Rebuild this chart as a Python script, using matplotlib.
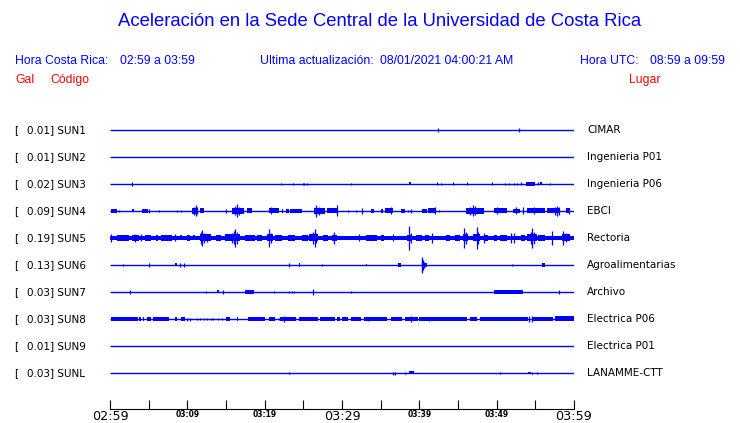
import matplotlib
matplotlib.use("Agg")
import matplotlib.pyplot as plt
from matplotlib.transforms import blended_transform_factory

# Stations
codes = ["SUN1", "SUN2", "SUN3", "SUN4", "SUN5", "SUN6", "SUN7", "SUN8", "SUN9", "SUNL"]
gal = [0.01, 0.01, 0.02, 0.09, 0.19, 0.13, 0.03, 0.03, 0.01, 0.03]
places = ["CIMAR", "Ingenieria P01", "Ingenieria P06", "EBCI", "Rectoria",
          "Agroalimentarias", "Archivo", "Electrica P06", "Electrica P01", "LANAMME-CTT"]

# time axis (minutes after 02:59)
tick_minutes = [0, 5, 10, 15, 20, 25, 30, 35, 40, 45, 50, 55, 60]
tick_labels = ["02:59", "", "03:09", "", "03:19", "", "03:29", "", "03:39", "", "03:49", "", "03:59"]
big_ticks = ["02:59", "03:29", "03:59"]

# bursts: (start min, end min, half amplitude) and (min, half amplitude)
# amplitude in trace units where 27 = distance between two traces
bands = {
    "SUN1": [],
    "SUN2": [],
    "SUN3": [(38.7, 38.9, 1.5), (53.8, 55.0, 1.7), (55.6, 55.8, 1.5)],
    "SUN4": [(0.1, 0.9, 2.0), (2.9, 3.1, 1.5), (4.2, 4.9, 2.0), (10.6, 11.4, 3.0), (11.6, 12.1, 2.5),
             (15.8, 17.3, 3.0), (17.7, 18.3, 2.5), (20.6, 21.8, 2.5), (22.2, 22.4, 2.0), (22.8, 23.1, 2.0),
             (23.3, 24.8, 2.0), (26.4, 27.8, 3.0), (28.1, 29.5, 2.5), (33.8, 34.2, 2.0), (35.0, 35.3, 2.0),
             (35.6, 36.6, 2.5), (37.6, 38.2, 2.0), (40.3, 41.0, 2.0), (41.1, 42.2, 2.5), (46.0, 48.3, 3.0),
             (49.6, 51.3, 2.5), (52.1, 53.0, 2.0), (53.9, 56.3, 2.5), (56.5, 58.2, 2.5), (59.0, 59.5, 2.5)],
    "SUN5": [(0.0, 60.0, 2.2), (0.9, 2.4, 2.7), (2.8, 3.7, 3.0), (4.5, 5.3, 2.7), (5.9, 6.2, 2.7),
             (6.6, 8.0, 2.7), (9.1, 9.3, 2.5), (9.9, 10.4, 2.7), (10.7, 11.0, 2.5), (11.6, 13.1, 3.5),
             (13.7, 14.4, 2.7), (14.9, 16.8, 3.5), (17.4, 18.8, 2.7), (19.0, 19.6, 2.7), (20.3, 21.1, 3.5),
             (21.4, 22.2, 3.0), (23.0, 23.9, 2.7), (24.8, 25.6, 3.0), (25.7, 26.9, 3.5), (27.6, 28.2, 2.7),
             (28.7, 29.3, 3.0), (33.1, 34.5, 2.7), (35.1, 35.4, 2.7), (38.4, 39.0, 3.0), (39.6, 40.3, 3.0),
             (40.7, 41.2, 3.0), (43.4, 44.0, 2.7), (44.6, 45.3, 2.7), (45.7, 46.3, 3.5), (47.0, 47.8, 3.5),
             (48.3, 48.9, 3.0), (49.6, 50.0, 3.0), (50.4, 51.3, 3.0), (53.2, 53.7, 3.0), (53.9, 55.2, 3.5),
             (55.4, 56.3, 3.0), (58.4, 59.5, 3.5)],
    "SUN6": [(8.4, 8.6, 1.5), (24.5, 24.6, 1.7), (33.1, 33.2, 1.3), (37.3, 37.6, 1.7), (40.3, 41.0, 2.0),
             (55.9, 56.2, 2.3)],
    "SUN7": [(13.9, 14.1, 1.5), (17.5, 18.6, 1.7), (49.6, 53.4, 1.7)],
    "SUN8": [(0.1, 3.6, 2.3), (3.7, 4.0, 2.3), (4.3, 4.4, 2.3), (4.8, 5.3, 2.3), (5.5, 7.6, 2.3),
             (8.4, 8.7, 2.3), (9.2, 9.7, 2.3), (15.0, 15.5, 2.3), (16.4, 16.6, 2.3), (17.9, 20.1, 2.3),
             (20.5, 21.4, 2.3), (22.0, 24.1, 2.3), (24.4, 26.9, 2.3), (27.2, 29.1, 2.3), (29.4, 29.7, 2.3),
             (30.0, 30.8, 2.3), (31.1, 32.4, 2.3), (32.8, 35.8, 2.3), (36.3, 37.8, 2.3), (38.1, 39.8, 2.3),
             (40.0, 46.2, 2.3), (46.5, 47.5, 2.3), (47.8, 54.1, 2.3), (54.7, 57.3, 2.3), (57.5, 60.0, 2.5)],
    "SUN9": [],
    "SUNL": [(38.6, 39.3, 1.5), (54.0, 54.4, 1.3)],
}

spikes = {
    "SUN1": [(42.4, 1.7), (52.9, 1.7)],
    "SUN2": [],
    "SUN3": [(2.9, 1.7), (22.1, 1.0), (23.6, 1.0), (24.9, 1.0), (25.1, 1.0), (25.5, 1.0), (31.2, 0.8),
             (42.3, 1.5), (42.8, 0.8), (44.4, 1.5), (46.1, 1.5), (49.4, 1.5), (51.1, 1.0), (51.6, 1.0),
             (52.2, 1.0), (52.6, 1.2), (53.1, 1.5), (55.3, 1.5), (56.9, 1.0)],
    "SUN4": [(1.2, 1.0), (5.1, 2.0), (6.4, 1.0), (8.6, 1.0), (9.2, 1.0), (10.9, 4.0), (11.1, 5.5),
             (11.3, 3.5), (15.0, 2.0), (16.1, 4.5), (16.4, 6.5), (16.7, 4.0), (20.8, 3.5), (26.6, 4.0),
             (26.7, 6.0), (27.0, 4.0), (29.3, 5.5), (30.8, 0.8), (31.8, 0.8), (32.6, 3.0), (36.3, 3.5),
             (38.5, 1.0), (38.9, 2.0), (42.0, 3.5), (42.5, 1.0), (46.5, 4.0), (46.9, 5.5), (47.2, 4.5),
             (50.0, 3.5), (52.5, 3.5), (53.4, 3.5), (54.8, 3.5), (57.6, 4.0), (57.8, 5.3), (58.0, 4.0),
             (59.3, 3.0)],
    "SUN5": [(0.1, 3.7), (3.2, 4.0), (4.0, 3.5), (8.4, 3.5), (11.8, 6.0), (11.9, 8.3), (12.2, 5.0),
             (12.6, 4.0), (15.8, 5.0), (16.0, 6.5), (16.2, 8.8), (16.4, 6.0), (20.6, 8.8), (20.8, 5.0),
             (26.3, 6.0), (26.5, 9.0), (26.7, 5.0), (29.0, 6.0), (32.2, 3.5), (36.6, 3.5), (38.7, 12.0),
             (38.9, 5.0), (41.6, 5.3), (45.8, 10.3), (46.0, 6.0), (47.4, 11.0), (47.6, 6.0), (48.4, 5.0),
             (51.9, 5.0), (52.3, 5.0), (54.4, 6.0), (54.6, 10.3), (54.8, 6.0), (57.2, 7.0), (58.6, 6.7),
             (59.0, 4.5)],
    "SUN6": [(1.7, 1.5), (5.1, 2.3), (9.1, 2.0), (9.6, 1.7), (23.2, 2.3), (27.4, 0.8), (40.3, 8.3),
             (40.4, 6.5), (40.5, 4.5), (40.6, 3.0), (52.0, 0.8)],
    "SUN7": [(2.6, 2.3), (12.4, 1.2), (14.6, 2.0), (21.2, 0.8), (23.2, 1.3), (23.5, 1.0), (23.8, 1.0),
             (26.2, 2.7), (31.2, 0.8), (58.0, 2.0)],
    "SUN8": [(10.0, 1.5), (10.3, 1.5), (11.3, 1.0), (11.7, 1.0), (12.2, 1.0), (12.5, 1.2), (13.0, 1.0),
             (13.3, 1.2), (14.0, 1.0), (14.5, 1.0), (21.8, 1.0), (22.5, 2.7), (33.4, 2.3), (38.9, 2.7),
             (41.3, 2.3), (54.2, 2.7), (54.6, 2.7)],
    "SUN9": [],
    "SUNL": [(23.1, 0.8), (36.6, 1.5), (36.9, 1.5), (38.2, 1.0), (50.4, 1.3), (54.6, 0.8), (55.2, 1.3)],
}

BLUE = "#0000ff"
RED = "#ff0000"
W, H = 740, 423
ROW = 27.0


def fx(x):
    return x / W


def fy(y):
    return 1 - y / H


fig = plt.figure(figsize=(W / 100, H / 100), dpi=100)
fig.patch.set_facecolor("white")

# header
head = "Liberation Sans"
fig.text(fx(380), fy(22), "Aceleración en la Sede Central de la Universidad de Costa Rica",
         ha="center", va="center", color=BLUE, fontsize=13.3, family=head)
for x, s in [(15, "Hora Costa Rica:"), (120, "02:59 a 03:59"), (260, "Ultima actualización:"),
             (380, "08/01/2021 04:00:21 AM"), (580, "Hora UTC:")]:
    fig.text(fx(x), fy(61), s, ha="left", va="center", color=BLUE, fontsize=8.8, family=head)
fig.text(fx(725), fy(61), "08:59 a 09:59", ha="right", va="center", color=BLUE, fontsize=8.8, family=head)
for x, s in [(15, "Gal"), (50, "Código"), (629, "Lugar")]:
    fig.text(fx(x), fy(80), s, ha="left", va="center", color=RED, fontsize=8.8, family=head)

# traces
ax = fig.add_axes([fx(110), fy(409), fx(574) - fx(110), (409 - 116) / H])
ax.set_xlim(0, 60)
ax.set_ylim((409 - 130) / ROW, (116 - 130) / ROW)

for i, code in enumerate(codes):
    ax.hlines(i, 0, 60, color=BLUE, lw=1.0)
    for t0, t1, a in bands[code]:
        ax.fill_between([t0, t1], i - a / ROW, i + a / ROW, color=BLUE, lw=0)
    st = spikes[code]
    if st:
        ax.vlines([s[0] for s in st], [i - s[1] / ROW for s in st], [i + s[1] / ROW for s in st],
                  color=BLUE, lw=0.9)

tr = blended_transform_factory(fig.transFigure, ax.transData)
for i, code in enumerate(codes):
    ax.text(fx(14), i, "[", transform=tr, ha="left", va="center", fontsize=7.5)
    ax.text(fx(27), i, f"{gal[i]:.2f}] {code}", transform=tr, ha="left", va="center", fontsize=7.5)
    ax.text(fx(587), i, places[i], transform=tr, ha="left", va="center", fontsize=7.5)

for side in ["left", "right", "top"]:
    ax.spines[side].set_visible(False)
ax.spines["bottom"].set_linewidth(0.8)
ax.set_yticks([])
ax.set_xticks(tick_minutes)
ax.set_xticklabels(tick_labels)
ax.tick_params(axis="x", direction="in", length=6.5, width=0.8, pad=0.5)
for lab in ax.get_xticklabels():
    if lab.get_text() in big_ticks:
        lab.set_fontsize(9.2)
    else:
        lab.set_fontsize(5.5)
        lab.set_fontweight("bold")

fig.savefig("out.png", dpi=100)
